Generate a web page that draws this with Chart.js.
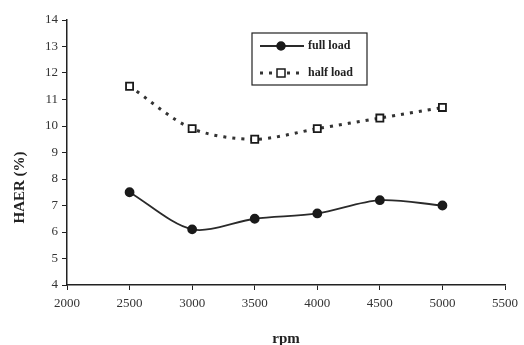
<!DOCTYPE html>
<html>
<head>
<meta charset="utf-8">
<script src="https://cdn.jsdelivr.net/npm/chart.js@4/dist/chart.umd.min.js"></script>
<style>
  html, body { margin: 0; padding: 0; background: #fff; }
  #wrap { width: 524px; height: 345px; }
</style>
</head>
<body>
<div id="wrap"><canvas id="chart"></canvas></div>
<script>
const rpm = [2500, 3000, 3500, 4000, 4500, 5000];
const fullLoad = [7.5, 6.1, 6.5, 6.7, 7.2, 7.0];
const halfLoad = [11.5, 9.9, 9.5, 9.9, 10.3, 10.7];

const serif = "'Liberation Serif', 'Times New Roman', serif";

// legend drawn in a box, like the original figure
const boxLegend = {
  id: "boxLegend",
  afterDraw(chart) {
    const ctx = chart.ctx;
    const a = chart.chartArea;
    const x = a.left + 185, y = a.top + 13, w = 115, h = 52;
    ctx.save();
    ctx.strokeStyle = "#222";
    ctx.lineWidth = 1.2;
    ctx.strokeRect(x, y, w, h);
    ctx.font = "bold 12px " + serif;
    ctx.textBaseline = "middle";
    chart.data.datasets.forEach((ds, i) => {
      const ry = y + 13 + i * 27;
      ctx.strokeStyle = ds.borderColor;
      ctx.lineWidth = ds.borderWidth;
      ctx.setLineDash(ds.borderDash || []);
      ctx.beginPath();
      ctx.moveTo(x + 8, ry);
      ctx.lineTo(x + 52, ry);
      ctx.stroke();
      ctx.setLineDash([]);
      ctx.fillStyle = ds.pointBackgroundColor;
      ctx.strokeStyle = ds.pointBorderColor;
      ctx.lineWidth = 1.5;
      if (ds.pointStyle === "rect") {
        ctx.fillRect(x + 25, ry - 4, 8, 8);
        ctx.strokeRect(x + 25, ry - 4, 8, 8);
      } else {
        ctx.beginPath();
        ctx.arc(x + 29, ry, 4, 0, Math.PI * 2);
        ctx.fill();
        ctx.stroke();
      }
      ctx.fillStyle = "#222";
      ctx.fillText(ds.label, x + 56, ry);
    });
    ctx.restore();
  }
};

// y title sits a bit below the middle in the original
const yTitle = {
  id: "yTitle",
  afterDraw(chart) {
    const ctx = chart.ctx;
    const a = chart.chartArea;
    ctx.save();
    ctx.translate(20, (a.top + a.bottom) / 2 + 35);
    ctx.rotate(-Math.PI / 2);
    ctx.font = "bold 15px " + serif;
    ctx.fillStyle = "#222";
    ctx.textAlign = "center";
    ctx.textBaseline = "middle";
    ctx.fillText("HAER (%)", 0, 0);
    ctx.restore();
  }
};

new Chart(document.getElementById("chart"), {
  type: "line",
  data: {
    datasets: [
      {
        label: "full load",
        data: rpm.map((r, i) => ({ x: r, y: fullLoad[i] })),
        borderColor: "#2a2a2a",
        borderWidth: 1.8,
        tension: 0.3,
        pointStyle: "circle",
        pointRadius: 4,
        pointBackgroundColor: "#1a1a1a",
        pointBorderColor: "#1a1a1a",
      },
      {
        label: "half load",
        data: rpm.map((r, i) => ({ x: r, y: halfLoad[i] })),
        borderColor: "#333",
        borderWidth: 3,
        borderDash: [3, 6],
        tension: 0.3,
        pointStyle: "rect",
        pointRadius: 5,
        pointBorderWidth: 1.8,
        pointBackgroundColor: "#fff",
        pointBorderColor: "#1a1a1a",
      },
    ],
  },
  options: {
    responsive: true,
    maintainAspectRatio: false,
    animation: false,
    layout: { padding: { top: 20, right: 10, left: 0, bottom: 0 } },
    plugins: {
      legend: { display: false },
      tooltip: { enabled: false },
    },
    scales: {
      x: {
        type: "linear",
        min: 2000,
        max: 5500,
        ticks: {
          stepSize: 500, color: "#333", font: { family: serif, size: 13 }, padding: 6,
          callback: (v) => String(v),
        },
        grid: { drawOnChartArea: false, drawTicks: true, tickLength: 5, color: "#222" },
        border: { color: "#222", width: 1.5 },
        title: { display: true, text: "rpm", color: "#222", font: { family: serif, size: 15, weight: "bold" }, padding: { top: 10, bottom: -3 } },
        afterFit(scale) { scale.height = 60; },
      },
      y: {
        min: 4,
        max: 14,
        ticks: { stepSize: 1, color: "#333", font: { family: serif, size: 13 }, padding: 4 },
        grid: { drawOnChartArea: false, drawTicks: true, tickLength: 5, color: "#222" },
        border: { color: "#222", width: 1.5 },
        afterFit(scale) { scale.width = 67; },
      },
    },
  },
  plugins: [boxLegend, yTitle],
});
</script>
</body>
</html>
